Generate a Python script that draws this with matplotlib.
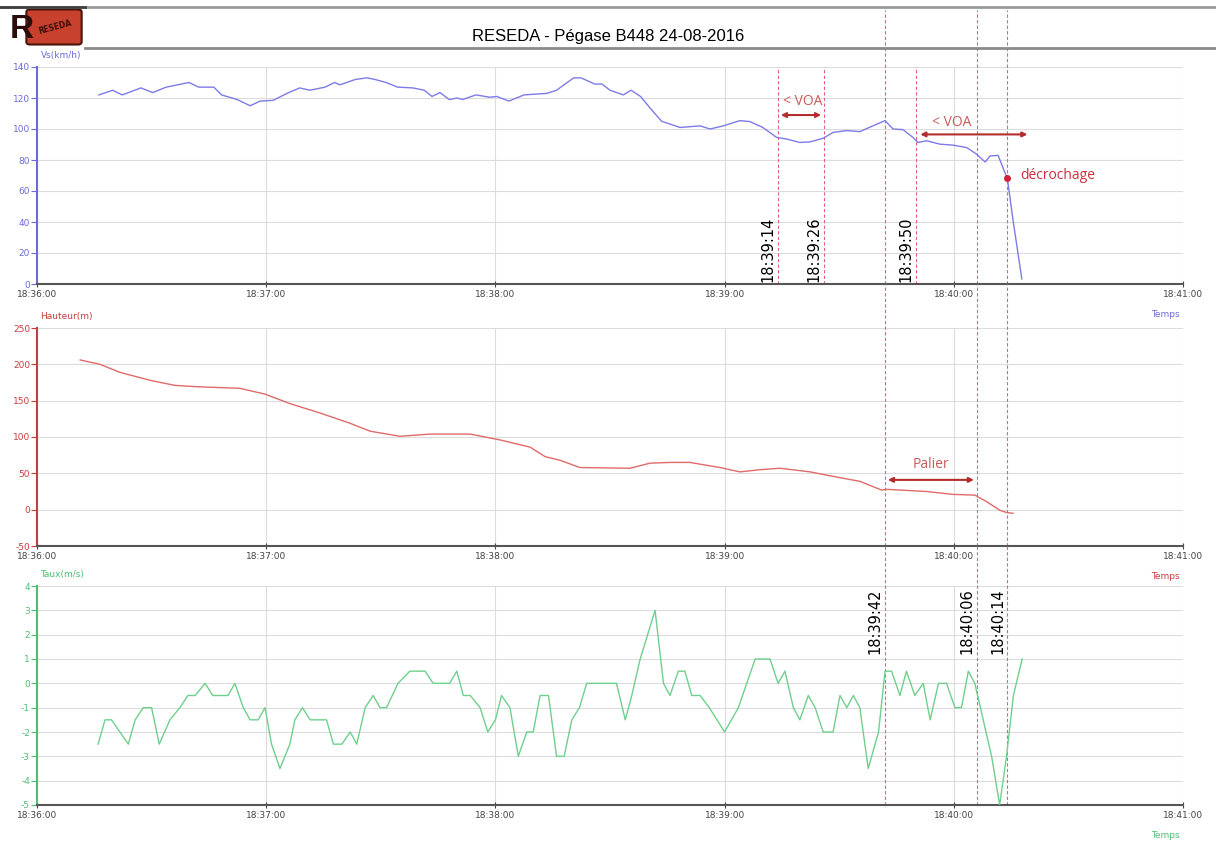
import numpy as np
import matplotlib
matplotlib.use("Agg")
import matplotlib.pyplot as plt
from matplotlib.ticker import FuncFormatter, MultipleLocator
from matplotlib.patches import FancyBboxPatch

plt.rcParams["axes.unicode_minus"] = False

# time axis: seconds after 18:36:00
speed_t = [16.2, 19.8, 22.3, 27.2, 30.3, 33.8, 39.8, 42.3, 46.3, 48.3,
           52.4, 55.8, 58.4, 61.8, 65.9, 68.8, 71.4, 75.4, 77.9, 79.3,
           83.4, 86.4, 88.4, 91.4, 94.4, 98.4, 101.4, 103.4, 105.5, 107.9,
           110, 111.4, 114.9, 118.5, 120.4, 123.5, 127.5, 133.5, 136, 140.5,
           142.4, 146, 147.9, 150, 153.5, 155.5, 158, 160.5, 163.5, 168.3,
           173.6, 176.2, 179.6, 184, 186.6, 190, 193.6, 196.3, 199.7, 202.4,
           205.8, 208.4, 212, 215.4, 218.8, 222, 224.1, 226.7, 229.3, 230.6,
           232.9, 236.4, 239.8, 243.4, 246, 248.2, 249.5, 251.6, 253.4, 254,
           255.5, 257.8]
speed_v = [122, 125, 122, 126.5, 123.5, 127, 130, 127, 127, 122,
           119, 115, 118, 118.5, 123.5, 126.5, 125, 127, 130, 128.5,
           132, 133, 132, 130, 127, 126.5, 125, 121, 123.5, 119,
           120, 119, 122, 120.5, 121, 118, 122, 123, 125, 133,
           133, 129, 129, 125, 122, 125, 121, 113.5, 105, 101,
           102, 100, 102, 105.4, 104.8, 101, 94.6, 93.5, 91.3, 91.7,
           94, 97.8, 99, 98.3, 102, 105.4, 100, 99.6, 94.6, 91.3,
           92.4, 90.2, 89.6, 88, 83.7, 78.7, 82.6, 83, 71.7, 68.5,
           41.3, 3.3]

height_t = [11.3, 16.5, 21.7, 29.6, 36.1, 42.7, 53.1, 59.7, 66.2, 74.1,
            81.9, 87.2, 95, 102.9, 113.4, 121.2, 129.1, 133, 136.9, 142.1,
            155.2, 160.5, 165.7, 170.9, 178.8, 184, 189.3, 194.5, 202.4, 210.2,
            215.4, 221.1, 222.4, 232.9, 239.8, 245.5, 248.6, 252.1, 253.9, 255.5]
height_v = [206, 200, 189, 178, 171, 169, 167, 159, 146, 133,
            119, 108, 101, 104, 104, 96, 86, 73, 68, 58,
            57, 64, 65, 65, 58, 52, 55, 57, 52, 44,
            39, 27, 28, 25, 21, 20, 11, -1, -4, -5]

taux_t = [16, 17.8, 19.5, 23.9, 25.7, 27.8, 30, 32, 34.8, 37.4,
          39.5, 41.4, 44, 46, 50, 51.8, 54, 55.8, 57.9, 59.7,
          61.4, 63.6, 66.2, 67.5, 69.5, 71.5, 75.8, 77.6, 79.8, 82,
          83.7, 85.9, 88, 89.8, 91.5, 94.5, 97.6, 101.6, 103.7, 108,
          109.9, 111.6, 113.4, 116, 118, 120, 121.6, 123.8, 126, 128.2,
          129.9, 131.7, 133.9, 136, 138, 140, 142, 143.9, 151.7, 154,
          155.7, 157.9, 161.8, 164, 165.7, 167.9, 169.6, 171.4, 173.6, 176,
          180, 183.6, 185.8, 188, 191.9, 194, 195.8, 198, 199.7, 201.9,
          203.7, 205.8, 208.4, 210.2, 212, 213.7, 215.4, 217.6, 220.3, 222,
          223.7, 225.9, 227.6, 229.8, 232, 233.8, 236, 238.1, 240.3, 242,
          243.8, 245.5, 247.7, 249.9, 252, 253.8, 255.6, 257.9]
taux_v = [-2.5, -1.5, -1.5, -2.5, -1.5, -1, -1, -2.5, -1.5, -1,
          -0.5, -0.5, 0, -0.5, -0.5, 0, -1, -1.5, -1.5, -1,
          -2.5, -3.5, -2.5, -1.5, -1, -1.5, -1.5, -2.5, -2.5, -2,
          -2.5, -1, -0.5, -1, -1, 0, 0.5, 0.5, 0, 0,
          0.5, -0.5, -0.5, -1, -2, -1.5, -0.5, -1, -3, -2,
          -2, -0.5, -0.5, -3, -3, -1.5, -1, 0, 0, -1.5,
          -0.5, 1, 3, 0, -0.5, 0.5, 0.5, -0.5, -0.5, -1,
          -2, -1, 0, 1, 1, 0, 0.5, -1, -1.5, -0.5,
          -1, -2, -2, -0.5, -1, -0.5, -1, -3.5, -2, 0.5,
          0.5, -0.5, 0.5, -0.5, 0, -1.5, 0, 0, -1, -1,
          0.5, 0, -1.5, -3, -5, -3, -0.5, 1]

# marked instants (seconds after 18:36:00)
top_marks = [194, 206, 230]
top_labels = ["18:39:14", "18:39:26", "18:39:50"]
all_marks = [222, 246, 254]
all_labels = ["18:39:42", "18:40:06", "18:40:14"]
stall_t, stall_v = 254, 68.5

W, H = 1216, 841
fig = plt.figure(figsize=(W / 100, H / 100), dpi=100)

def fig_rect(top, bottom, left=37, right=1183):
    return [left / W, 1 - bottom / H, (right - left) / W, (bottom - top) / H]

def fmt_time(s, pos=None):
    s = int(round(s))
    return "18:%02d:%02d" % (36 + s // 60, s % 60)

panels = [
    dict(rect=fig_rect(67, 284), t=speed_t, v=speed_v, lim=(0, 140), step=20,
         line="#7d7be8", axis="#6b6bdc", name="Vs(km/h)"),
    dict(rect=fig_rect(328, 546), t=height_t, v=height_v, lim=(-50, 250), step=50,
         line="#e06a6a", axis="#c83c3c", name="Hauteur(m)"),
    dict(rect=fig_rect(586, 805), t=taux_t, v=taux_v, lim=(-5, 4), step=1,
         line="#6ed08c", axis="#4cc070", name="Taux(m/s)"),
]

axes = []
for p in panels:
    ax = fig.add_axes(p["rect"])
    ax.plot(p["t"], p["v"], color=p["line"], lw=1.0, zorder=3)
    ax.set_xlim(0, 300)
    ax.set_ylim(*p["lim"])
    ax.xaxis.set_major_locator(MultipleLocator(60))
    ax.xaxis.set_major_formatter(FuncFormatter(fmt_time))
    ax.yaxis.set_major_locator(MultipleLocator(p["step"]))
    ax.grid(True, color="#dcdcdc", lw=0.8)
    for s in ["top", "right"]:
        ax.spines[s].set_visible(False)
    ax.spines["left"].set_color(p["axis"])
    ax.spines["left"].set_linewidth(1.5)
    ax.spines["bottom"].set_color("#555555")
    ax.spines["bottom"].set_linewidth(1.5)
    ax.tick_params(axis="y", colors=p["axis"], labelsize=6.5, length=4, width=0.8, pad=1)
    ax.tick_params(axis="x", colors="#444444", labelsize=6.5, length=5, width=0.8,
                   direction="inout", pad=2)
    ax.text(0.003, 1.03, p["name"], transform=ax.transAxes, color=p["axis"],
            fontsize=6.5, ha="left", va="bottom")
    ax.text(0.985, -0.12, "Temps", transform=ax.transAxes, color=p["axis"],
            fontsize=6.5, ha="center", va="top")
    axes.append(ax)

ax1, ax2, ax3 = axes
mark_color = "#e0608a"

# marks only on the speed panel
for t, lab in zip(top_marks, top_labels):
    ax1.axvline(t, color=mark_color, lw=0.8, ls=(0, (3, 2)), zorder=2)
    ax1.text(t - 0.6, 1.5, lab, rotation=90, ha="right", va="bottom", fontsize=10.5)

# marks running through the whole figure
reach = [(284 - 10) / (284 - 67), (546 - 284) / (546 - 328), (805 - 546) / (805 - 586)]
for t in all_marks:
    for ax, r in zip(axes, reach):
        ax.axvline(t, ymin=0, ymax=r, color=mark_color, lw=0.8, ls=(0, (3, 2)),
                   clip_on=False, zorder=2)
for t, lab in zip(all_marks, all_labels):
    ax3.text(t - 0.6, 3.9, lab, rotation=90, ha="right", va="top", fontsize=10.5)

# annotations
arrow_c = "#b42d2d"
text_c = "#c85a5a"
ax1.annotate("", xy=(194, 109), xytext=(206, 109),
             arrowprops=dict(arrowstyle="<|-|>", color=arrow_c, lw=1.5, mutation_scale=7))
ax1.text(200.5, 118, "< VOA", color=text_c, fontsize=10, ha="center", va="center",
         family="Open Sans")
ax1.annotate("", xy=(230.5, 96.5), xytext=(260, 96.5),
             arrowprops=dict(arrowstyle="<|-|>", color=arrow_c, lw=1.5, mutation_scale=7))
ax1.text(239.5, 104.5, "< VOA", color=text_c, fontsize=10, ha="center", va="center",
         family="Open Sans")
ax1.plot([stall_t], [stall_v], "o", color="#d0203a", ms=4, zorder=4)
ax1.text(257.5, 70, "décrochage", color="#d02c3c", fontsize=10, ha="left", va="center",
         family="Open Sans")

ax2.annotate("", xy=(222, 41), xytext=(246, 41),
             arrowprops=dict(arrowstyle="<|-|>", color=arrow_c, lw=1.5, mutation_scale=7))
ax2.text(234, 62, "Palier", color=text_c, fontsize=10, ha="center", va="center",
         family="Open Sans")

# header
fig.add_artist(plt.Line2D([0, 1], [1 - 7 / H] * 2, color="#9a9a9a", lw=2))
fig.add_artist(plt.Line2D([0, 85 / W], [1 - 7 / H] * 2, color="#404040", lw=2))
fig.add_artist(plt.Line2D([85 / W, 1], [1 - 48 / H] * 2, color="#8a8a8a", lw=2))
fig.text(608 / W, 1 - 37 / H, "RESEDA - Pégase B448 24-08-2016", ha="center", va="center",
         fontsize=12, family="Liberation Sans")

logo = FancyBboxPatch((30 / W, 1 - 42 / H), 48 / W, 30 / H, boxstyle="round,pad=0.003",
                      transform=fig.transFigure, facecolor="#c8402e", edgecolor="#4a1408", lw=1.5)
fig.add_artist(logo)
fig.text(22 / W, 1 - 29 / H, "R", color="#2a0c08", fontsize=24, fontweight="bold",
         ha="center", va="center", family="Liberation Sans")
fig.text(55 / W, 1 - 27 / H, "RESEDA", color="#3a100a", fontsize=5.5, fontweight="bold",
         ha="center", va="center", rotation=15)

fig.savefig("out.png", dpi=100)
